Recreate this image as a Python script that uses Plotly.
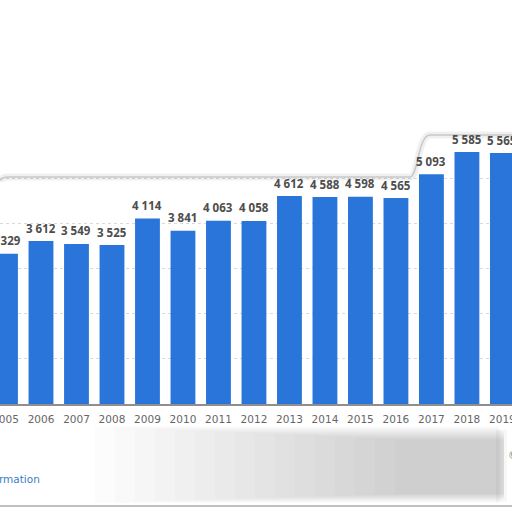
import plotly.graph_objects as go

years = [str(y) for y in range(2005, 2020)]
values = [3329, 3612, 3549, 3525, 4114, 3841, 4063, 4058,
          4612, 4588, 4598, 4565, 5093, 5585, 5565]
grid_vals = [0, 1000, 2000, 3000, 4000, 5000]

W, H = 512, 512
T, B = 60, 108
PH = H - T - B


def px(x):
    return x / W


def py(y):
    return (H - B - y) / PH


labels = [f"{v:,}".replace(",", " ") for v in values]

fig = go.Figure()
fig.add_trace(go.Bar(
    x=years, y=values,
    marker=dict(color="#2a75d9", line=dict(width=0)),
    width=0.7, hoverinfo="skip",
))

# value labels sit a little higher above the bars than plotly's "outside" text
# (x given as category index so "2005" is not read as a number)
annotations = [
    dict(x=i, y=v, xref="x", yref="y", text=lab, showarrow=False,
         yanchor="middle", yshift=13,
         font=dict(family="Open Sans", size=11.5, color="#4d4d4d", weight="bold"))
    for i, (v, lab) in enumerate(zip(values, labels))
]

# panel border with the torn top edge
border = (f"M {px(0)},{py(181)} Q {px(2)},{py(177)} {px(8)},{py(177)} "
          f"L {px(410)},{py(177)} C {px(418)},{py(177)} {px(418)},{py(135)} {px(430)},{py(135)} "
          f"L {px(512)},{py(135)}")
shapes = [
    dict(type="path", path=border, xref="paper", yref="paper",
         line=dict(color="rgba(0,0,0,0.06)", width=7)),
    dict(type="path", path=border, xref="paper", yref="paper",
         line=dict(color="#c8c8c8", width=1.5)),
]

# soft shadow under the chart, built from thin translucent layers
for i in range(16):
    shapes.append(dict(
        type="rect", xref="paper", yref="paper", layer="below",
        x0=px(95 + i * 20), x1=px(498 + min(i, 6)),
        y0=py(503 - i * 0.6), y1=py(426 + i * 0.9),
        fillcolor="rgba(0,0,0,0.011)", line=dict(width=0),
    ))
shapes += [
    dict(type="rect", xref="paper", yref="paper", layer="below",
         x0=px(496), x1=px(507), y0=py(502), y1=py(430),
         fillcolor="rgba(0,0,0,0.03)", line=dict(width=0)),
    dict(type="line", xref="paper", yref="paper", x0=0, x1=1, y0=py(506), y1=py(506),
         line=dict(color="#c0c0c0", width=2)),
]

annotations += [
    dict(text="Additional Information", xref="paper", yref="paper",
         x=px(42), y=py(479), xanchor="right", yanchor="middle", showarrow=False,
         font=dict(size=10.5, color="#3a80c4")),
    dict(text="© Statista 2021", xref="paper", yref="paper",
         x=px(506), y=py(455), xanchor="left", yanchor="middle", showarrow=False,
         font=dict(size=10.5, color="#888888")),
]

fig.update_layout(
    width=W, height=H,
    margin=dict(l=0, r=0, t=T, b=B),
    paper_bgcolor="white", plot_bgcolor="white",
    showlegend=False,
    shapes=shapes,
    annotations=annotations,
    font=dict(family="DejaVu Sans"),
)
fig.update_xaxes(
    type="category", range=[-0.155, 14.27], automargin=False, showgrid=False,
    showline=True, linecolor="#8f8f8f", linewidth=1.5,
    ticks="", ticklabelstandoff=5, tickfont=dict(size=10.5, color="#666666"),
)
fig.update_yaxes(
    range=[0, PH / 0.0451], automargin=False, tickvals=grid_vals, showticklabels=False,
    showgrid=True, gridcolor="#d9d9d9", griddash="dot", gridwidth=1, zeroline=False,
)

# drop the browser's default page margin so the figure sits at the corner
fig.write_html("out.html", config={"displayModeBar": False},
               post_script="document.body.style.margin='0px';")
